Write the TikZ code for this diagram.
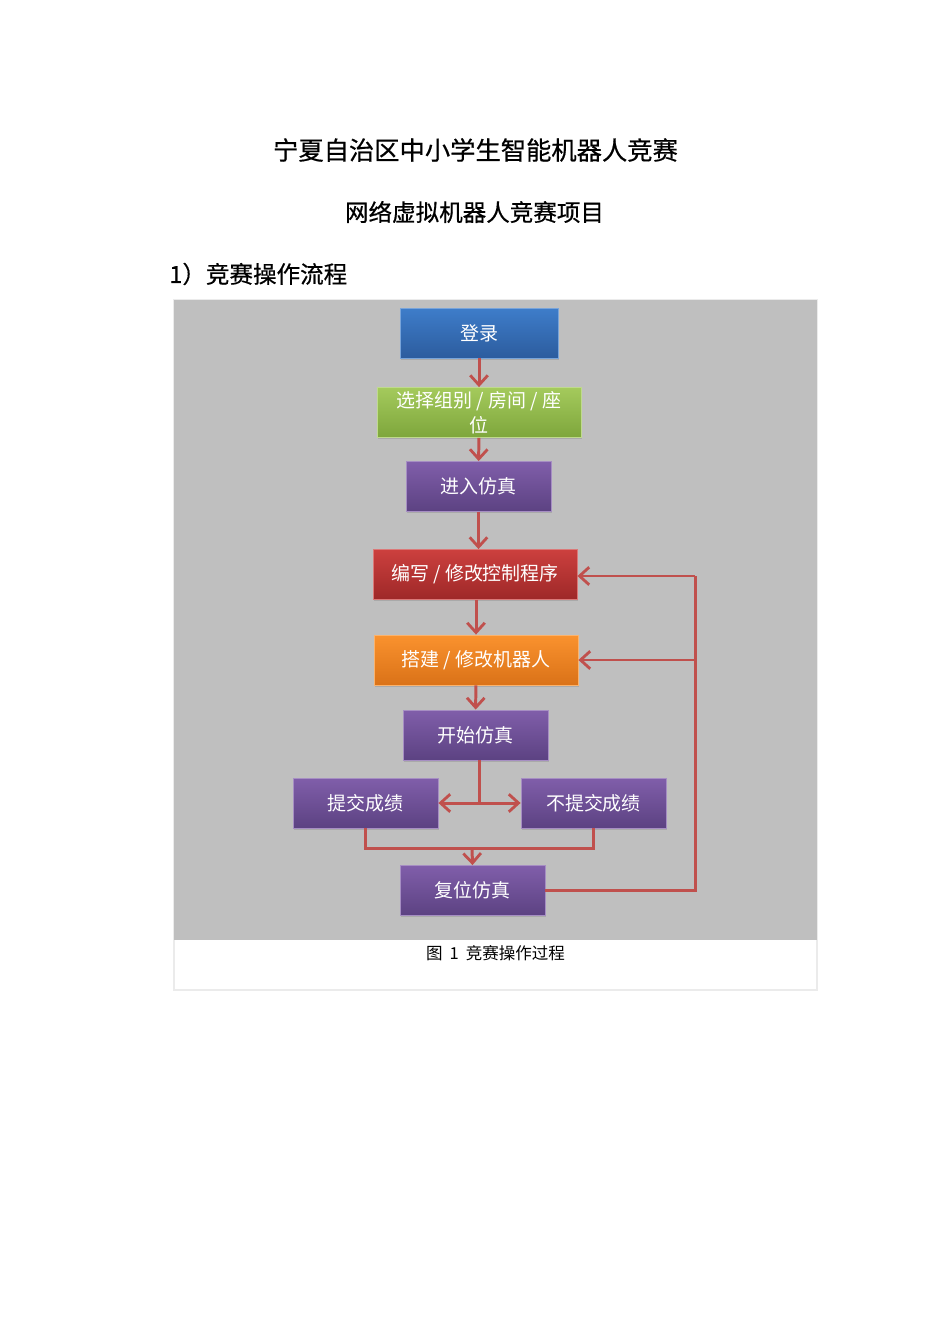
\documentclass[tikz,border=0pt]{standalone}
\usepackage{fontspec}
\newfontfamily\cjk{Noto Sans CJK SC}
\newfontfamily\cjkhead[FakeBold=0.6]{Noto Sans CJK SC}
\usepackage{tikz}
\usetikzlibrary{calc,positioning,arrows.meta,shadows}
\usepackage{xcolor}
\definecolor{panelgrey}{RGB}{191,191,191}
\definecolor{linkred}{RGB}{192,80,77}
\definecolor{bluetop}{RGB}{62,125,202}
\definecolor{bluebot}{RGB}{44,92,158}
\definecolor{greentop}{RGB}{164,202,92}
\definecolor{greenbot}{RGB}{126,166,60}
\definecolor{purpletop}{RGB}{128,94,170}
\definecolor{purplebot}{RGB}{92,66,130}
\definecolor{redtop}{RGB}{204,64,62}
\definecolor{redbot}{RGB}{158,40,40}
\definecolor{orangetop}{RGB}{250,146,46}
\definecolor{orangebot}{RGB}{218,114,24}

\tikzset{
  stepbox/.style={rectangle, minimum height=1cm, inner sep=0pt, text=white,
    font=\cjk\fontsize{10.8pt}{14pt}\selectfont, align=center, line width=0.5pt,
    drop shadow={shadow xshift=0.6pt, shadow yshift=-0.9pt, opacity=0.35}},
  bluebox/.style={stepbox, top color=bluetop, bottom color=bluebot, draw=bluetop!70!white},
  greenbox/.style={stepbox, top color=greentop, bottom color=greenbot, draw=greentop!70!white},
  purplebox/.style={stepbox, top color=purpletop, bottom color=purplebot, draw=purpletop!70!white},
  redbox/.style={stepbox, top color=redtop, bottom color=redbot, draw=redtop!70!white},
  orangebox/.style={stepbox, top color=orangetop, bottom color=orangebot, draw=orangetop!70!white},
  link/.style={draw=linkred, line width=1.7pt},
  arrow/.style={link, -{Straight Barb[length=5.5pt,width=10pt,line width=1.6pt]}}
}

\begin{document}
\begin{tikzpicture}[x=0.02cm, y=-0.02cm]
  \useasboundingbox[fill=white] (0,0) rectangle (950,1344);

  % headings
  \node[font=\cjkhead\fontsize{14.4pt}{16pt}\selectfont] (title) at (475.5,150) {宁夏自治区中小学生智能机器人竞赛};
  \node[font=\cjkhead\fontsize{13.4pt}{16pt}\selectfont] (subtitle) at (474.5,212) {网络虚拟机器人竞赛项目};
  \node[font=\cjkhead\fontsize{13.4pt}{16pt}\selectfont, anchor=west, inner sep=0pt] (heading) at (169,274) {1）竞赛操作流程};

  % figure frame
  \draw[draw=black!8, line width=0.6pt] (174,300) rectangle (817,990);
  \fill[panelgrey] (174,300) rectangle (817,940);
  \node[font=\cjk\fontsize{9.4pt}{12pt}\selectfont] (caption) at (495.5,953) {图\hspace{4pt}1\hspace{4pt}竞赛操作过程};

  % steps
  \node[bluebox, minimum width=3.16cm] (denglu) at (479,333) {登录};
  \node[greenbox, minimum width=4.08cm] (xuanze) at (479,412.5) {选择组别 / 房间 / 座\\位};
  \node[purplebox, minimum width=2.9cm] (jinru) at (478.5,486.5) {进入仿真};
  \node[redbox, minimum width=4.08cm] (bianxie) at (475,574.5) {编写 / 修改控制程序};
  \node[orangebox, minimum width=4.08cm] (dajian) at (476,660) {搭建 / 修改机器人};
  \node[purplebox, minimum width=2.9cm] (kaishi) at (475.5,735) {开始仿真};
  \node[purplebox, minimum width=2.9cm] (tijiao) at (365.5,803) {提交成绩};
  \node[purplebox, minimum width=2.9cm] (butijiao) at (593.5,803) {不提交成绩};
  \node[purplebox, minimum width=2.9cm] (fuwei) at (472.5,890.5) {复位仿真};

  % connectors
  \draw[arrow] (denglu) -- (xuanze);
  \draw[arrow] (xuanze) -- (jinru);
  \draw[arrow] (jinru) -- (jinru |- bianxie.north);
  \draw[arrow] (bianxie.south -| dajian) -- (dajian);
  \draw[arrow] (dajian) -- (kaishi);

  \coordinate (split) at (479,803);
  \draw[link] (kaishi.south -| split) -- (split);
  \draw[arrow] (split) -- (tijiao.east);
  \draw[arrow] (split) -- (butijiao.west);

  \coordinate (join) at (472,848);
  \draw[link] (tijiao.south) |- (join) -| (butijiao.south);
  \draw[arrow] (join) -- (fuwei.north);

  \coordinate (rail) at (695,576);
  \draw[link] (fuwei.east) -| (rail);
  \draw[arrow] (rail) -- (bianxie.east |- rail);
  \draw[arrow] (dajian.east -| rail) -- (dajian.east);
\end{tikzpicture}
\end{document}
